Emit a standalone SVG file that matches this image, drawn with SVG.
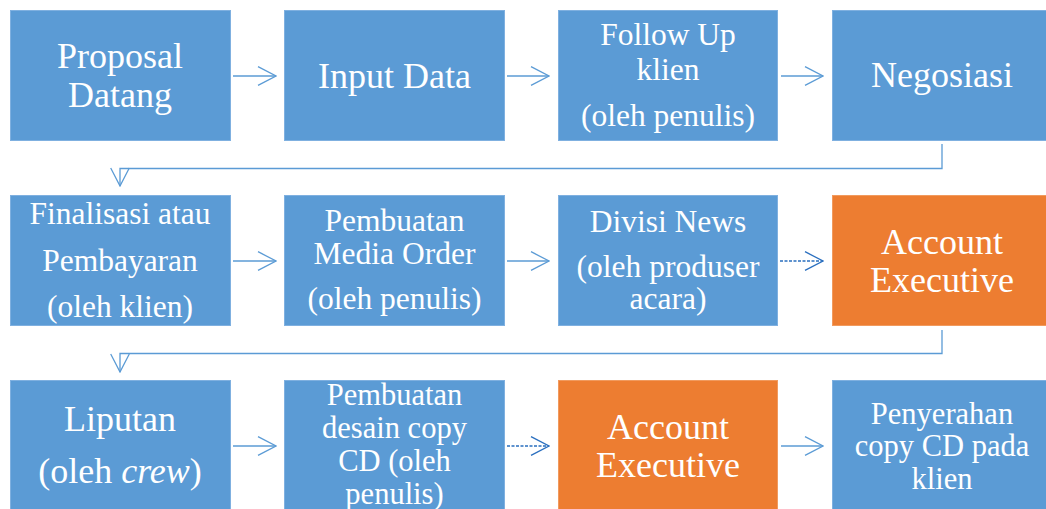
<svg xmlns="http://www.w3.org/2000/svg" width="1046" height="509" viewBox="0 0 1046 509">
<style>
.box{fill:#5b9bd5;stroke:#7fb0e0;stroke-width:1}
.ae{fill:#ed7d31;stroke:#f19a5e;stroke-width:1}
.t{font-family:"Liberation Serif","Times New Roman",serif;fill:#ffffff;text-anchor:middle}
.L{font-size:36px}
.S{font-size:31.5px}
.S2{font-size:30.5px}
.c{fill:none;stroke:#5b9bd5;stroke-width:1.3}
.d{fill:none;stroke:#2a6fbf;stroke-width:1.3;stroke-dasharray:3 1.5}
</style>
<defs>
<marker id="ah" viewBox="0 0 20 20" markerWidth="20" markerHeight="20" markerUnits="userSpaceOnUse" refX="19" refY="10" orient="auto">
<path d="M1,0.7 L19,10 L1,19.3" fill="none" stroke="#5b9bd5" stroke-width="1.3"/>
</marker>
<marker id="ahd" viewBox="0 0 20 20" markerWidth="20" markerHeight="20" markerUnits="userSpaceOnUse" refX="19" refY="10" orient="auto">
<path d="M1,0.7 L19,10 L1,19.3" fill="none" stroke="#2a6fbf" stroke-width="1.3"/>
</marker>
</defs>
<g id="n1"><rect class="box" x="10.5" y="10.5" width="220" height="130"/>
<text class="t L" x="120" y="68">Proposal</text><text class="t L" x="120" y="107">Datang</text></g>
<g id="n2"><rect class="box" x="284.5" y="10.5" width="220" height="130"/>
<text class="t L" x="394.5" y="88">Input Data</text></g>
<g id="n3"><rect class="box" x="558.5" y="10.5" width="219" height="130"/>
<text class="t S" x="668" y="45">Follow Up</text><text class="t S" x="668" y="80">klien</text><text class="t S" x="668" y="126">(oleh penulis)</text></g>
<g id="n4"><rect class="box" x="832.5" y="10.5" width="220" height="130"/>
<text class="t L" x="942" y="87">Negosiasi</text></g>
<g id="n5"><rect class="box" x="10.5" y="195.5" width="220" height="130"/>
<text class="t S" x="120" y="224">Finalisasi atau</text><text class="t S" x="120" y="270.5">Pembayaran</text><text class="t S" x="120" y="316.5">(oleh klien)</text></g>
<g id="n6"><rect class="box" x="284.5" y="195.5" width="220" height="130"/>
<text class="t S" x="394.5" y="230.5">Pembuatan</text><text class="t S" x="394.5" y="264">Media Order</text><text class="t S" x="394.5" y="309">(oleh penulis)</text></g>
<g id="n7"><rect class="box" x="558.5" y="195.5" width="219" height="130"/>
<text class="t S" x="668" y="231.5">Divisi News</text><text class="t S" x="668" y="276.5">(oleh produser</text><text class="t S" x="668" y="308.5">acara)</text></g>
<g id="n8"><rect class="ae" x="832.5" y="195.5" width="220" height="130"/>
<text class="t L" x="942" y="253.5">Account</text><text class="t L" x="942" y="291.5">Executive</text></g>
<g id="n9"><rect class="box" x="10.5" y="380.5" width="220" height="130"/>
<text class="t L" x="120" y="431">Liputan</text><text class="t L" x="120" y="483">(oleh <tspan font-style="italic">crew</tspan>)</text></g>
<g id="n10"><rect class="box" x="284.5" y="380.5" width="220" height="130"/>
<text class="t S2" x="394.5" y="405">Pembuatan</text><text class="t S2" x="394.5" y="437.5">desain copy</text><text class="t S2" x="394.5" y="471">CD (oleh</text><text class="t S2" x="394.5" y="503.5">penulis)</text></g>
<g id="n11"><rect class="ae" x="558.5" y="380.5" width="219" height="130"/>
<text class="t L" x="668" y="438.5">Account</text><text class="t L" x="668" y="476.5">Executive</text></g>
<g id="n12"><rect class="box" x="832.5" y="380.5" width="220" height="130"/>
<text class="t S2" x="942" y="423.5">Penyerahan</text><text class="t S2" x="942" y="456">copy CD pada</text><text class="t S2" x="942" y="488.5">klien</text></g>
<g id="connectors">
<path class="c" d="M233,76 H276" marker-end="url(#ah)"/>
<path class="c" d="M507,76 H549" marker-end="url(#ah)"/>
<path class="c" d="M781,76 H823" marker-end="url(#ah)"/>
<path class="c" d="M942,144 V168.5 H120 V186" marker-end="url(#ah)"/>
<path class="c" d="M233,261 H276" marker-end="url(#ah)"/>
<path class="c" d="M507,261 H549" marker-end="url(#ah)"/>
<path class="d" d="M780,261 H823" marker-end="url(#ahd)"/>
<path class="c" d="M942,330 V353.5 H120 V372" marker-end="url(#ah)"/>
<path class="c" d="M233,446 H276" marker-end="url(#ah)"/>
<path class="d" d="M507,446 H549" marker-end="url(#ahd)"/>
<path class="c" d="M781,446 H823" marker-end="url(#ah)"/>
</g>
</svg>
